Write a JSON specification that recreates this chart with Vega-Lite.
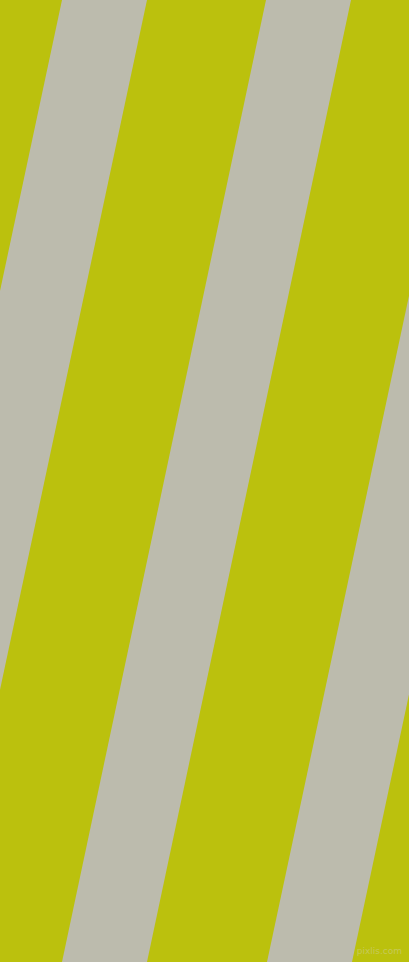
{
  "$schema": "https://vega.github.io/schema/vega-lite/v6.json",
  "autosize": {"type": "fit", "contains": "padding"},
  "width": 409,
  "height": 962,
  "padding": 0,
  "background": "#bbc10d",
  "config": {"view": {"stroke": null, "fill": "#bbc10d"}},
  "layer": [
    {
      "data": {
        "values": [
          {"stripe": 1, "y": 0, "x": 62, "x2": 147},
          {"stripe": 1, "y": 962, "x": -143, "x2": -58},
          {"stripe": 2, "y": 0, "x": 266, "x2": 351},
          {"stripe": 2, "y": 962, "x": 62, "x2": 147},
          {"stripe": 3, "y": 0, "x": 472, "x2": 557},
          {"stripe": 3, "y": 962, "x": 267, "x2": 352}
        ]
      },
      "mark": {"type": "area", "orient": "horizontal", "color": "#bcbbad", "clip": true},
      "encoding": {
        "y": {"field": "y", "type": "quantitative", "scale": {"domain": [0, 962], "reverse": true, "nice": false, "zero": false}, "axis": null},
        "x": {"field": "x", "type": "quantitative", "scale": {"domain": [0, 409], "nice": false, "zero": false}, "axis": null},
        "x2": {"field": "x2"},
        "detail": {"field": "stripe"}
      }
    },
    {
      "data": {"values": [{"label": "pixlis.com", "x": 402, "y": 951}]},
      "mark": {"type": "text", "align": "right", "baseline": "middle", "fontSize": 9, "font": "DejaVu Sans", "color": "#c9cc6a", "opacity": 0.8},
      "encoding": {
        "x": {"field": "x", "type": "quantitative"},
        "y": {"field": "y", "type": "quantitative"},
        "text": {"field": "label"}
      }
    }
  ]
}
